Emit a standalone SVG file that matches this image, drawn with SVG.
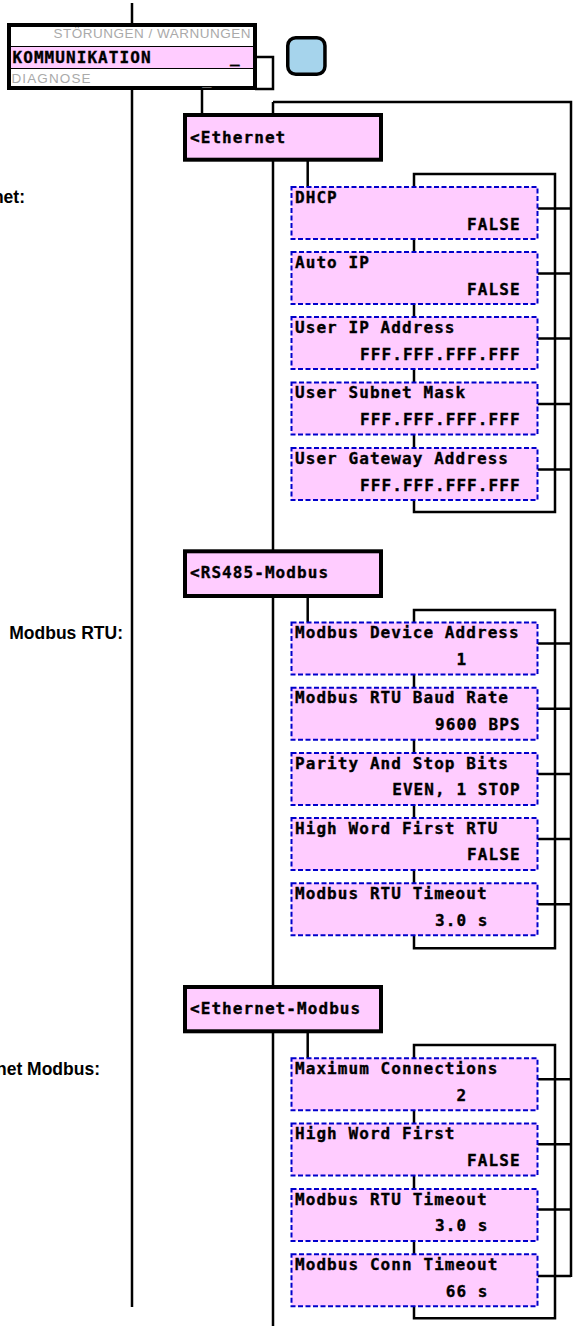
<svg xmlns="http://www.w3.org/2000/svg" width="573" height="1326" viewBox="0 0 573 1326">
<style>
.ln{stroke:#000;stroke-width:2.5;fill:none}
.sec{fill:#ffccff;stroke:#000;stroke-width:4}
.item{fill:#ffccff;stroke:#0000cc;stroke-width:2;stroke-dasharray:5 2.5}
.mono{font-family:"DejaVu Sans Mono","Liberation Mono",monospace;font-weight:bold;font-size:16px;letter-spacing:1.07px;fill:#000;stroke:#000;stroke-width:0.35}
.lbl{font-family:"Liberation Sans",Arial,sans-serif;font-weight:bold;font-size:17.5px;fill:#000}
.gray{font-family:"Liberation Sans",Arial,sans-serif;font-size:13.5px;fill:#aaaaaa}
</style>
<rect width="573" height="1326" fill="#fff"/>
<g id="connectors">
<path class="ln" d="M132,3 V1307"/>
<path class="ln" d="M273,102 V1326"/>
<path class="ln" d="M273,102 H571 V1277"/>
<path class="ln" d="M255,57 H273 V89 H255"/>
<path class="ln" d="M202,90 V113"/>
<path class="ln" d="M307.7,161 V187"/>
<path class="ln" d="M414,512 V174 H555 V512 Z"/>
<path class="ln" d="M537.5,208.5 H571 M537.5,273.5 H571 M537.5,338.5 H571 M537.5,404 H571 M537.5,469.5 H571"/>
<path class="ln" d="M307.7,598 V622.5"/>
<path class="ln" d="M414,948.3 V610 H555 V948.3 Z"/>
<path class="ln" d="M537.5,643.5 H571 M537.5,708.7 H571 M537.5,773.9 H571 M537.5,839.1 H571 M537.5,904.3 H571"/>
<path class="ln" d="M307.7,1033 V1058.3"/>
<path class="ln" d="M414,1318.3 V1045 H555 V1318.3 Z"/>
<path class="ln" d="M537.5,1079.3 H571 M537.5,1144.3 H571 M537.5,1209.6 H571 M537.5,1276 H571"/>
</g>
<g id="menu">
<rect x="9" y="25" width="246" height="63" fill="#fff" stroke="#000" stroke-width="4"/>
<rect x="11" y="46.5" width="242" height="22" fill="#ffccff"/>
<path d="M11,46.5 H253 M11,68.5 H253" stroke="#000" stroke-width="1.2"/>
<text class="gray" x="53.5" y="38" textLength="197" lengthAdjust="spacing">STÖRUNGEN / WARNUNGEN</text>
<text class="mono" x="12.5" y="63">KOMMUNIKATION</text>
<text class="mono" x="230" y="62.5">_</text>
<text class="gray" x="11.5" y="83.3" font-size="14" textLength="79" lengthAdjust="spacing">DIAGNOSE</text>
<text x="202" y="83.7" font-family="DejaVu Sans Mono, monospace" font-size="16" fill="#bbbbbb">_</text>
</g>
<g id="button">
<rect x="287.75" y="37.75" width="37.2" height="36.5" rx="8" fill="#a6d4ec" stroke="#000" stroke-width="3.5"/>
</g>
<g id="label-ethernet"><text class="lbl" x="25" y="203" text-anchor="end">Ethernet:</text></g>
<g id="label-modbus-rtu"><text class="lbl" x="123" y="639.3" text-anchor="end">Modbus RTU:</text></g>
<g id="label-ethernet-modbus"><text class="lbl" x="100" y="1075" text-anchor="end">Ethernet Modbus:</text></g>

<g id="sec-ethernet" transform="translate(185,115)"><rect class="sec" width="196" height="44.7"/><text class="mono" x="5" y="28">&lt;Ethernet</text></g>
<g id="sec-rs485" transform="translate(185,551.3)"><rect class="sec" width="196" height="44.7"/><text class="mono" x="5" y="26.9">&lt;RS485-Modbus</text></g>
<g id="sec-ethmodbus" transform="translate(185,987)"><rect class="sec" width="196" height="44.3"/><text class="mono" x="5" y="26.5">&lt;Ethernet-Modbus</text></g>

<g id="dhcp" transform="translate(291.5,187)"><rect class="item" width="246" height="52"/><text class="mono" x="3.5" y="15.7">DHCP</text><text class="mono" x="175.6" y="42.8">FALSE</text></g>
<g id="auto-ip" transform="translate(291.5,252)"><rect class="item" width="246" height="52"/><text class="mono" x="3.5" y="15.7">Auto IP</text><text class="mono" x="175.6" y="42.8">FALSE</text></g>
<g id="user-ip" transform="translate(291.5,317)"><rect class="item" width="246" height="52"/><text class="mono" x="3.5" y="15.7">User IP Address</text><text class="mono" x="68.6" y="42.8">FFF.FFF.FFF.FFF</text></g>
<g id="user-subnet" transform="translate(291.5,382.5)"><rect class="item" width="246" height="52"/><text class="mono" x="3.5" y="15.7">User Subnet Mask</text><text class="mono" x="68.6" y="42.8">FFF.FFF.FFF.FFF</text></g>
<g id="user-gateway" transform="translate(291.5,448)"><rect class="item" width="246" height="52"/><text class="mono" x="3.5" y="15.7">User Gateway Address</text><text class="mono" x="68.6" y="42.8">FFF.FFF.FFF.FFF</text></g>

<g id="modbus-addr" transform="translate(291.5,622.5)"><rect class="item" width="246" height="52"/><text class="mono" x="3.5" y="15.7">Modbus Device Address</text><text class="mono" x="164.9" y="42.3">1</text></g>
<g id="modbus-baud" transform="translate(291.5,687.7)"><rect class="item" width="246" height="52"/><text class="mono" x="3.5" y="15.7">Modbus RTU Baud Rate</text><text class="mono" x="143.5" y="42.3">9600 BPS</text></g>
<g id="parity" transform="translate(291.5,752.9)"><rect class="item" width="246" height="52"/><text class="mono" x="3.5" y="15.7">Parity And Stop Bits</text><text class="mono" x="100.7" y="42.3">EVEN, 1 STOP</text></g>
<g id="high-word-rtu" transform="translate(291.5,818.1)"><rect class="item" width="246" height="52"/><text class="mono" x="3.5" y="15.7">High Word First RTU</text><text class="mono" x="175.6" y="42.3">FALSE</text></g>
<g id="rtu-timeout" transform="translate(291.5,883.3)"><rect class="item" width="246" height="52"/><text class="mono" x="3.5" y="15.7">Modbus RTU Timeout</text><text class="mono" x="143.5" y="42.3">3.0 s</text></g>

<g id="max-conn" transform="translate(291.5,1058.3)"><rect class="item" width="246" height="52"/><text class="mono" x="3.5" y="15.7">Maximum Connections</text><text class="mono" x="164.9" y="42.3">2</text></g>
<g id="high-word" transform="translate(291.5,1123.5)"><rect class="item" width="246" height="52"/><text class="mono" x="3.5" y="15.7">High Word First</text><text class="mono" x="175.6" y="42.3">FALSE</text></g>
<g id="eth-rtu-timeout" transform="translate(291.5,1189)"><rect class="item" width="246" height="52"/><text class="mono" x="3.5" y="15.7">Modbus RTU Timeout</text><text class="mono" x="143.5" y="42.3">3.0 s</text></g>
<g id="conn-timeout" transform="translate(291.5,1254.3)"><rect class="item" width="246" height="52"/><text class="mono" x="3.5" y="15.7">Modbus Conn Timeout</text><text class="mono" x="154.2" y="42.3">66 s</text></g>
</svg>
